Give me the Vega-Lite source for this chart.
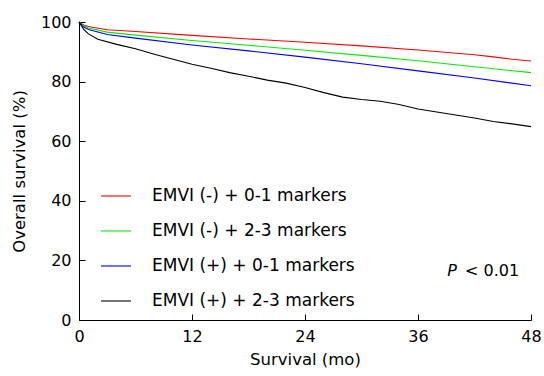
{
  "$schema": "https://vega.github.io/schema/vega-lite/v6.json",
  "width": 452,
  "height": 298,
  "autosize": {"type": "none"},
  "padding": {"left": 79, "top": 22, "right": 13, "bottom": 56},
  "background": "white",
  "config": {
    "view": {"stroke": null}
  },
  "data": {
    "values": [
      {"t": 0, "v": 100, "g": "EMVI (-) + 0-1 markers"},
      {"t": 0.5, "v": 99.0, "g": "EMVI (-) + 0-1 markers"},
      {"t": 1, "v": 98.5, "g": "EMVI (-) + 0-1 markers"},
      {"t": 3, "v": 97.4, "g": "EMVI (-) + 0-1 markers"},
      {"t": 6, "v": 96.8, "g": "EMVI (-) + 0-1 markers"},
      {"t": 12, "v": 95.5, "g": "EMVI (-) + 0-1 markers"},
      {"t": 18, "v": 94.3, "g": "EMVI (-) + 0-1 markers"},
      {"t": 24, "v": 93.2, "g": "EMVI (-) + 0-1 markers"},
      {"t": 30, "v": 92.0, "g": "EMVI (-) + 0-1 markers"},
      {"t": 36, "v": 90.6, "g": "EMVI (-) + 0-1 markers"},
      {"t": 42, "v": 89.0, "g": "EMVI (-) + 0-1 markers"},
      {"t": 44, "v": 88.3, "g": "EMVI (-) + 0-1 markers"},
      {"t": 46, "v": 87.5, "g": "EMVI (-) + 0-1 markers"},
      {"t": 48, "v": 86.9, "g": "EMVI (-) + 0-1 markers"},
      {"t": 0, "v": 100, "g": "EMVI (-) + 2-3 markers"},
      {"t": 0.5, "v": 98.7, "g": "EMVI (-) + 2-3 markers"},
      {"t": 1, "v": 98.0, "g": "EMVI (-) + 2-3 markers"},
      {"t": 3, "v": 96.6, "g": "EMVI (-) + 2-3 markers"},
      {"t": 6, "v": 95.6, "g": "EMVI (-) + 2-3 markers"},
      {"t": 12, "v": 93.8, "g": "EMVI (-) + 2-3 markers"},
      {"t": 18, "v": 92.2, "g": "EMVI (-) + 2-3 markers"},
      {"t": 24, "v": 90.5, "g": "EMVI (-) + 2-3 markers"},
      {"t": 30, "v": 88.8, "g": "EMVI (-) + 2-3 markers"},
      {"t": 36, "v": 87.0, "g": "EMVI (-) + 2-3 markers"},
      {"t": 42, "v": 85.0, "g": "EMVI (-) + 2-3 markers"},
      {"t": 48, "v": 83.0, "g": "EMVI (-) + 2-3 markers"},
      {"t": 0, "v": 100, "g": "EMVI (+) + 0-1 markers"},
      {"t": 0.5, "v": 98.3, "g": "EMVI (+) + 0-1 markers"},
      {"t": 1, "v": 97.5, "g": "EMVI (+) + 0-1 markers"},
      {"t": 3, "v": 95.8, "g": "EMVI (+) + 0-1 markers"},
      {"t": 6, "v": 94.6, "g": "EMVI (+) + 0-1 markers"},
      {"t": 12, "v": 92.3, "g": "EMVI (+) + 0-1 markers"},
      {"t": 18, "v": 90.3, "g": "EMVI (+) + 0-1 markers"},
      {"t": 24, "v": 88.2, "g": "EMVI (+) + 0-1 markers"},
      {"t": 30, "v": 86.0, "g": "EMVI (+) + 0-1 markers"},
      {"t": 36, "v": 83.6, "g": "EMVI (+) + 0-1 markers"},
      {"t": 42, "v": 81.2, "g": "EMVI (+) + 0-1 markers"},
      {"t": 48, "v": 78.6, "g": "EMVI (+) + 0-1 markers"},
      {"t": 0, "v": 100, "g": "EMVI (+) + 2-3 markers"},
      {"t": 0.5, "v": 97.5, "g": "EMVI (+) + 2-3 markers"},
      {"t": 1, "v": 96.0, "g": "EMVI (+) + 2-3 markers"},
      {"t": 2, "v": 94.2, "g": "EMVI (+) + 2-3 markers"},
      {"t": 4, "v": 92.5, "g": "EMVI (+) + 2-3 markers"},
      {"t": 6, "v": 91.0, "g": "EMVI (+) + 2-3 markers"},
      {"t": 8, "v": 89.2, "g": "EMVI (+) + 2-3 markers"},
      {"t": 10, "v": 87.5, "g": "EMVI (+) + 2-3 markers"},
      {"t": 12, "v": 85.8, "g": "EMVI (+) + 2-3 markers"},
      {"t": 14, "v": 84.5, "g": "EMVI (+) + 2-3 markers"},
      {"t": 16, "v": 83.0, "g": "EMVI (+) + 2-3 markers"},
      {"t": 18, "v": 81.8, "g": "EMVI (+) + 2-3 markers"},
      {"t": 20, "v": 80.5, "g": "EMVI (+) + 2-3 markers"},
      {"t": 22, "v": 79.5, "g": "EMVI (+) + 2-3 markers"},
      {"t": 24, "v": 78.0, "g": "EMVI (+) + 2-3 markers"},
      {"t": 26, "v": 76.3, "g": "EMVI (+) + 2-3 markers"},
      {"t": 28, "v": 74.8, "g": "EMVI (+) + 2-3 markers"},
      {"t": 30, "v": 74.0, "g": "EMVI (+) + 2-3 markers"},
      {"t": 32, "v": 73.4, "g": "EMVI (+) + 2-3 markers"},
      {"t": 34, "v": 72.3, "g": "EMVI (+) + 2-3 markers"},
      {"t": 36, "v": 70.8, "g": "EMVI (+) + 2-3 markers"},
      {"t": 38, "v": 69.8, "g": "EMVI (+) + 2-3 markers"},
      {"t": 40, "v": 68.8, "g": "EMVI (+) + 2-3 markers"},
      {"t": 42, "v": 67.8, "g": "EMVI (+) + 2-3 markers"},
      {"t": 44, "v": 66.6, "g": "EMVI (+) + 2-3 markers"},
      {"t": 46, "v": 65.8, "g": "EMVI (+) + 2-3 markers"},
      {"t": 48, "v": 64.9, "g": "EMVI (+) + 2-3 markers"}
    ]
  },
  "layer": [
    {
      "mark": {"type": "line", "strokeWidth": 1.1},
      "encoding": {
        "x": {
          "field": "t", "type": "quantitative",
          "scale": {"domain": [0, 48], "nice": false, "zero": false},
          "axis": {
            "values": [0, 12, 24, 36, 48], "title": "Survival (mo)",
            "grid": false, "domainColor": "black", "tickColor": "black", "labelColor": "black", "titleColor": "black",
            "labelFont": "DejaVu Sans", "titleFont": "DejaVu Sans", "labelFontSize": 16, "titleFontSize": 16.5, "titleFontWeight": "normal",
            "tickSize": -6, "labelPadding": 14, "titlePadding": 7, "labelFlush": false, "labelOverlap": false
          }
        },
        "y": {
          "field": "v", "type": "quantitative",
          "scale": {"domain": [0, 100], "nice": false},
          "axis": {
            "values": [0, 20, 40, 60, 80, 100], "title": "Overall survival (%)",
            "grid": false, "domainColor": "black", "tickColor": "black", "labelColor": "black", "titleColor": "black",
            "labelFont": "DejaVu Sans", "titleFont": "DejaVu Sans", "labelFontSize": 16, "titleFontSize": 16.5, "titleFontWeight": "normal",
            "tickSize": -6, "labelPadding": 14, "titlePadding": 13, "labelFlush": false, "labelOverlap": false
          }
        },
        "color": {
          "field": "g", "type": "nominal",
          "scale": {
            "domain": ["EMVI (-) + 0-1 markers", "EMVI (-) + 2-3 markers", "EMVI (+) + 0-1 markers", "EMVI (+) + 2-3 markers"],
            "range": ["#ff0000", "#00ee00", "#0000ff", "#000000"]
          },
          "legend": {
            "title": null,
            "orient": "none",
            "legendX": 21,
            "legendY": 158,
            "symbolType": "stroke",
            "symbolSize": 900,
            "symbolStrokeWidth": 1.1,
            "labelFontSize": 17,
            "labelFont": "DejaVu Sans",
            "labelColor": "black",
            "labelOffset": 20,
            "rowPadding": 11,
            "padding": 0,
            "labelLimit": 400
          }
        }
      }
    },
    {
      "data": {"values": [{}]},
      "mark": {"type": "text", "text": "P", "font": "DejaVu Sans", "fontStyle": "italic", "fontSize": 16, "align": "left", "baseline": "alphabetic", "fill": "black"},
      "encoding": {"x": {"datum": 39.1}, "y": {"datum": 14.8}}
    },
    {
      "data": {"values": [{}]},
      "mark": {"type": "text", "text": "< 0.01", "font": "DejaVu Sans", "fontSize": 16, "align": "left", "baseline": "alphabetic", "fill": "black"},
      "encoding": {"x": {"datum": 41.0}, "y": {"datum": 14.8}}
    }
  ]
}
